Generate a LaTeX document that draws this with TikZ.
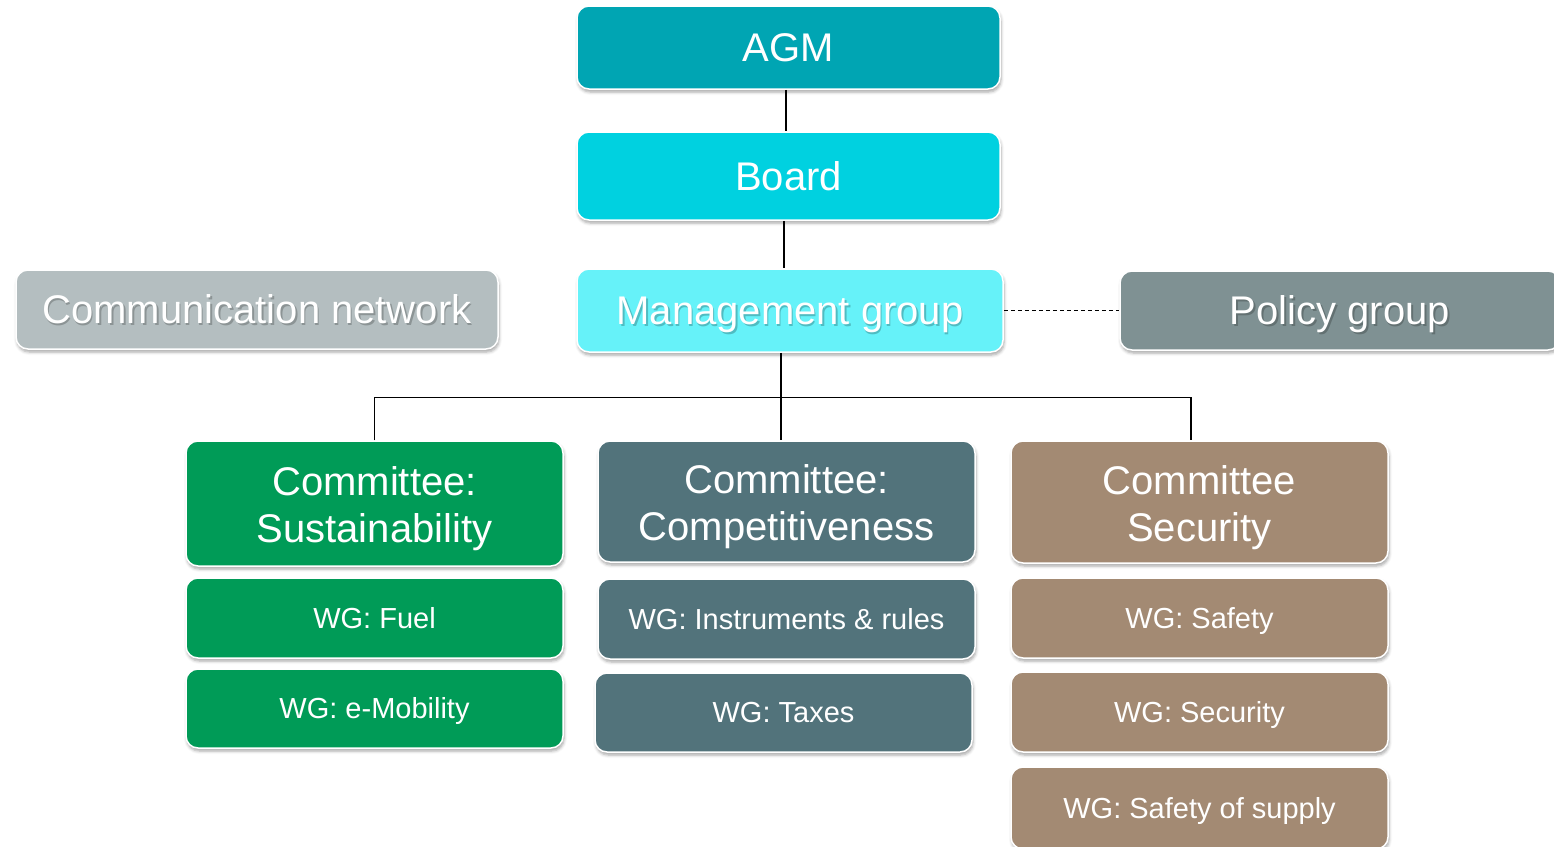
\documentclass[tikz,border=0pt]{standalone}
\usepackage{fontspec}
\setmainfont{Liberation Sans}
\usetikzlibrary{shadows.blur,calc}
\definecolor{cAGM}{HTML}{00A5B3}
\definecolor{cBoard}{HTML}{00D1E0}
\definecolor{cMgmt}{HTML}{66F2F9}
\definecolor{cComm}{HTML}{B4BEC0}
\definecolor{cPolicy}{HTML}{7F9193}
\definecolor{cGreen}{HTML}{009B57}
\definecolor{cComp}{HTML}{52737B}
\definecolor{cSec}{HTML}{A38A73}
\newcommand{\toplift}{\rule{0pt}{40pt}}
\tikzset{
  box/.style={draw=white, line width=1.5pt, rounded corners=12pt, text=white,
    align=center, inner sep=0pt,
    blur shadow={shadow xshift=1pt, shadow yshift=-3pt, shadow blur radius=3pt, shadow opacity=35}},
  big/.style={font=\fontsize{40}{47}\selectfont},
  bigone/.style={big, text height=36.6pt, text depth=8pt},
  small/.style={font=\fontsize{29}{34}\selectfont, text height=28.8pt, text depth=8pt},
  tshadow/.style={bigone, text=black, opacity=0.22, inner sep=0pt},
  ttext/.style={bigone, text=white, inner sep=0pt},
  conn/.style={draw=black, line width=1.1pt},
}
\begin{document}
\begin{tikzpicture}[x=1pt,y=-1pt]
\useasboundingbox (0,0) rectangle (1554,846);
% top
\node[box,bigone,fill=cAGM,minimum width=423,minimum height=83] (agm) at (788.5,47.5) {AGM};
\node[box,bigone,fill=cBoard,minimum width=423,minimum height=88] (board) at (788.5,176) {Board};
\node[box,fill=cMgmt,minimum width=426,minimum height=83] (mgmt) at (790,310.5) {};
\node[tshadow] (mgmtsh) at (791.5,312.5) {Management group};
\node[ttext] (mgmtt) at (790,310.5) {Management group};
\node[box,fill=cComm,minimum width=482,minimum height=79] (comm) at (257,309.5) {};
\node[tshadow] (commsh) at (258.5,311.5) {Communication network};
\node[ttext] (commt) at (257,309.5) {Communication network};
\node[box,fill=cPolicy,minimum width=440,minimum height=79] (policy) at (1340,310.5) {};
\node[tshadow] (policysh) at (1341.5,312.5) {Policy group};
\node[ttext] (policyt) at (1340,310.5) {Policy group};
% committees
\node[box,big,fill=cGreen,minimum width=377,minimum height=125] (sust) at (374.5,503.5) {\toplift Committee:\\Sustainability};
\node[box,small,fill=cGreen,minimum width=377,minimum height=80] (fuel) at (374.5,618) {WG: Fuel};
\node[box,small,fill=cGreen,minimum width=377,minimum height=79] (emob) at (374.5,708.5) {WG: e-Mobility};
\node[box,big,fill=cComp,minimum width=377,minimum height=121] (comp) at (786.5,501.5) {\toplift Committee:\\Competitiveness};
\node[box,small,fill=cComp,minimum width=377,minimum height=80] (instr) at (786.5,619) {WG: Instruments \& rules};
\node[box,small,fill=cComp,minimum width=377,minimum height=79] (taxes) at (783.5,712.5) {WG: Taxes};
\node[box,big,fill=cSec,minimum width=377,minimum height=122] (secc) at (1199.5,502) {\toplift Committee\\Security};
\node[box,small,fill=cSec,minimum width=377,minimum height=80] (safety) at (1199.5,618) {WG: Safety};
\node[box,small,fill=cSec,minimum width=377,minimum height=80] (secwg) at (1199.5,712) {WG: Security};
\node[box,small,fill=cSec,minimum width=377,minimum height=82] (supply) at (1199.5,808) {WG: Safety of supply};
% connectors
\draw[conn] ([xshift=-2.5pt]agm.south) -- ([xshift=-2.5pt]board.north);
\draw[conn] ([xshift=-4.5pt]board.south) -- ([xshift=-6pt]mgmt.north);
\draw[conn] ([xshift=-9pt]mgmt.south) -- ([xshift=-5.5pt]comp.north);
\draw[conn] (sust.north) -- ++(0,-43) -| ([xshift=-8.5pt]secc.north);
\draw[conn, line width=0.9pt, dash pattern=on 4pt off 3pt] (mgmt.east) -- (policy.west);
\end{tikzpicture}
\end{document}
